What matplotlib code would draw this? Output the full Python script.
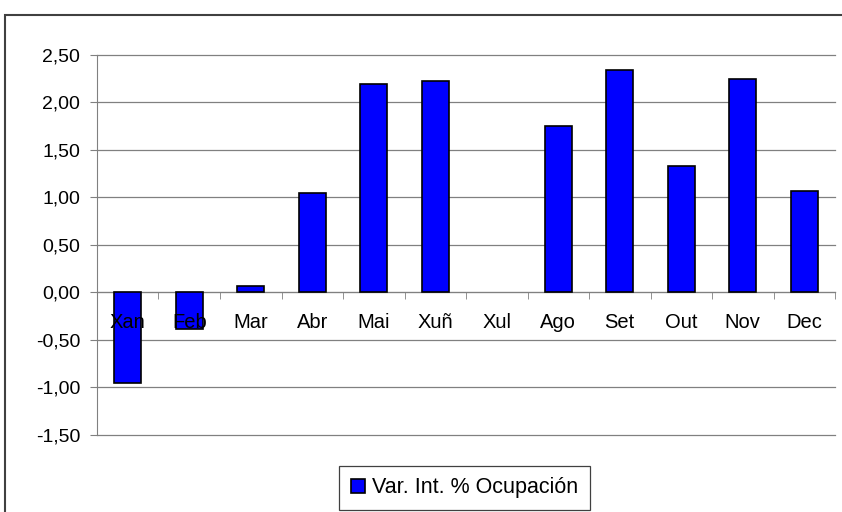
import matplotlib.pyplot as plt
import matplotlib.patches as patches
import numpy as np

plt.rcParams['font.family'] = ['Liberation Sans', 'DejaVu Sans']

months = ["Xan", "Feb", "Mar", "Abr", "Mai", "Xuñ", "Xul", "Ago", "Set", "Out", "Nov", "Dec"]
values = [-0.95, -0.38, 0.07, 1.05, 2.19, 2.23, 0.0, 1.75, 2.34, 1.33, 2.25, 1.07]
yticks = [-1.5, -1.0, -0.5, 0.0, 0.5, 1.0, 1.5, 2.0, 2.5]
series_name = "Var. Int. % Ocupación"

fig = plt.figure(figsize=(8.42, 5.12), dpi=100)
ax = fig.add_axes([0.1152, 0.1504, 0.8765, 0.7422])

x = np.arange(len(months))
# no outline for an empty bar
lw = [0 if v == 0 else 1.2 for v in values]
ax.bar(x, values, width=0.44, color="#0000ff", edgecolor="black", linewidth=lw,
       label=series_name, zorder=3)

ax.set_xlim(-0.5, len(months) - 0.5)
ax.set_ylim(-1.5, 2.5)
ax.set_yticks(yticks)
ax.set_yticklabels([f"{v:.2f}".replace(".", ",") for v in yticks], fontsize=14)
ax.yaxis.grid(True, color="#808080", linewidth=0.9, zorder=0)
for gl in ax.get_ygridlines():
    gl.set_clip_on(False)
ax.tick_params(axis="y", length=5, color="#808080", pad=7)

ax.spines["bottom"].set_position(("data", 0))
ax.spines["bottom"].set_color("#808080")
ax.spines["left"].set_color("#808080")
ax.spines["top"].set_visible(False)
ax.spines["right"].set_visible(False)

ax.set_xticks(x)
ax.set_xticklabels(months, fontsize=14.5)
ax.set_xticks(np.arange(len(months) + 1) - 0.5, minor=True)
ax.tick_params(axis="x", which="major", length=0, pad=15)
ax.tick_params(axis="x", which="minor", length=5, color="#808080", direction="out")
# month labels sit on top of the bars
ax.xaxis.set_zorder(4)

frame = patches.Rectangle((5 / 842, -0.1), 1.2, 1 - 15 / 512 + 0.1, transform=fig.transFigure,
                          fill=False, edgecolor="#404040", linewidth=1.5, clip_on=False)
fig.patches.append(frame)

leg = fig.legend(loc="center", bbox_to_anchor=(0.552, 0.047), fontsize=15.5,
                 fancybox=False, framealpha=1, edgecolor="#404040",
                 handlelength=0.65, handleheight=0.65, handletextpad=0.35,
                 borderpad=0.55, borderaxespad=0)
leg.get_frame().set_linewidth(0.9)

fig.savefig("out.png", dpi=100)
